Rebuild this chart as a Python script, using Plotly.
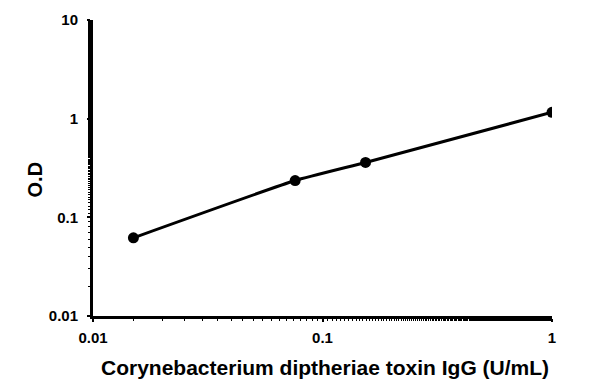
import plotly.graph_objects as go

conc = [0.015, 0.076, 0.154, 1.0]
od = [0.062, 0.236, 0.36, 1.16]

x_ticks = [0.01, 0.1, 1]
x_labels = ["0.01", "0.1", "1"]
y_ticks = [0.01, 0.1, 1, 10]
y_labels = ["0.01", "0.1", "1", "10"]

x_title = "Corynebacterium diptheriae toxin IgG (U/mL)"
y_title = "O.D"

font_family = "Liberation Sans, Arial, sans-serif"

fig = go.Figure()
fig.add_trace(go.Scatter(
    x=conc, y=od, mode="lines+markers",
    line=dict(color="black", width=3, shape="spline", smoothing=0.4),
    marker=dict(color="black", size=11),
    showlegend=False,
))

axis_common = dict(
    type="log",
    showgrid=False, zeroline=False, automargin=False,
    showline=True, linecolor="black", linewidth=3,
    ticks="outside", ticklen=3, tickwidth=2, tickcolor="black",
    tickfont=dict(family=font_family, size=15, color="black"),
    minor=dict(ticks="outside", ticklen=2, tickwidth=1, tickcolor="black"),
)

fig.update_layout(
    width=589, height=378,
    margin=dict(l=85, r=45, t=12, b=70),
    paper_bgcolor="white", plot_bgcolor="white",
    xaxis=dict(
        **axis_common,
        range=[-2, 0],
        tickvals=x_ticks, ticktext=["<b>%s</b>" % t for t in x_labels],
        ticklabelstandoff=3,
    ),
    yaxis=dict(
        **axis_common,
        range=[-2, 1],
        tickvals=y_ticks, ticktext=["<b>%s</b>" % t for t in y_labels],
        ticklabelstandoff=6,
    ),
    annotations=[
        dict(text="<b>%s</b>" % x_title, xref="paper", yref="paper",
             x=0.5, y=0, xshift=2, yshift=-51, xanchor="center", yanchor="middle",
             showarrow=False, font=dict(family=font_family, size=21, color="black")),
        dict(text="<b>%s</b>" % y_title, xref="paper", yref="paper",
             x=0, y=0.4595, xshift=-58.5, xanchor="center", yanchor="middle",
             textangle=-90, showarrow=False,
             font=dict(family=font_family, size=20, color="black")),
    ],
)

fig.write_html("out.html")
